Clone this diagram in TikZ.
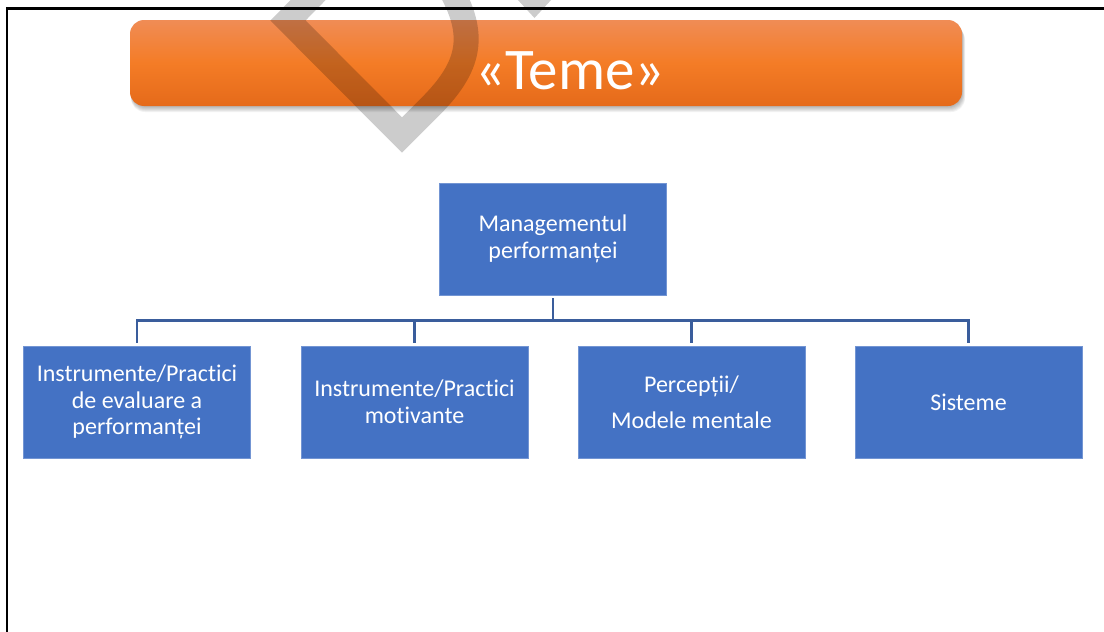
\documentclass[tikz,border=0pt]{standalone}
\usepackage{fontspec}
\setmainfont{Carlito}[Ligatures=NoCommon]
\definecolor{boxblue}{HTML}{4472C4}
\definecolor{linkblue}{HTML}{3A5D9C}
\definecolor{orTop}{HTML}{F08C55}
\definecolor{orMid}{HTML}{F47C26}
\definecolor{orBot}{HTML}{E56A1A}
\begin{document}
\begin{tikzpicture}[x=1pt,y=-1pt,
  box/.style={fill=boxblue, draw=boxblue!75!white, line width=0.6pt,
    minimum width=227pt, minimum height=112pt, inner sep=0pt,
    text=white, align=center, font=\fontsize{24}{26.5}\selectfont},
  link/.style={draw=linkblue, line width=2.6pt, shorten <=3pt, shorten >=3pt},
  banner/.style={rounded corners=14pt, minimum width=832pt, minimum height=86pt,
    inner sep=0pt, top color=orTop, bottom color=orBot, middle color=orMid, draw=none},
  wmark/.style={black, opacity=0.2}]
\useasboundingbox (0,0) rectangle (1104,632);
\fill[white] (0,0) rectangle (1104,632);
% banner shadow
\foreach \d in {1,...,6}
  \fill[black, opacity=0.05, rounded corners=14pt] (131,{20+\d}) rectangle ({962+0.5*\d},{106+\d});
\node[banner] (band) at (546,63) {};
\node[text=white, anchor=base, font=\fontsize{59}{62}\selectfont, inner sep=0pt] (title) at (570,89) {«Teme»};
% watermark
\begin{scope}
  \clip (0,0) rectangle (1104,632);
  \draw[wmark, line width=25pt, line join=miter] (318,-10) -- (288,20.5) -- (402,135) -- (430,107)
    .. controls (470,67) and (478,35) .. (448,-15);
  \fill[wmark] (517,-1) -- (552,-1) -- (534.5,18) -- cycle;
\end{scope}
% frame
\draw[line width=2.2pt] (7,632) -- (7,8.5) -- (1104,8.5);
% nodes
\node[box] (mp) at (553,239) {Managementul\\performanței};
\node[box] (b1) at (137,402) {Instrumente/Practici\\de evaluare a\\performanței};
\node[box] (b2) at (414.5,402) {Instrumente/Practici\\motivante};
\node[box] (b3) at (691.5,402) {Percepții/\\[9.5pt]Modele mentale};
\node[box] (b4) at (968.5,402) {Sisteme};
% connectors
\foreach \c in {b1,b2,b3,b4}
  \draw[link] (mp.south) -- ++(0,25) -| (\c.north);
\end{tikzpicture}
\end{document}
